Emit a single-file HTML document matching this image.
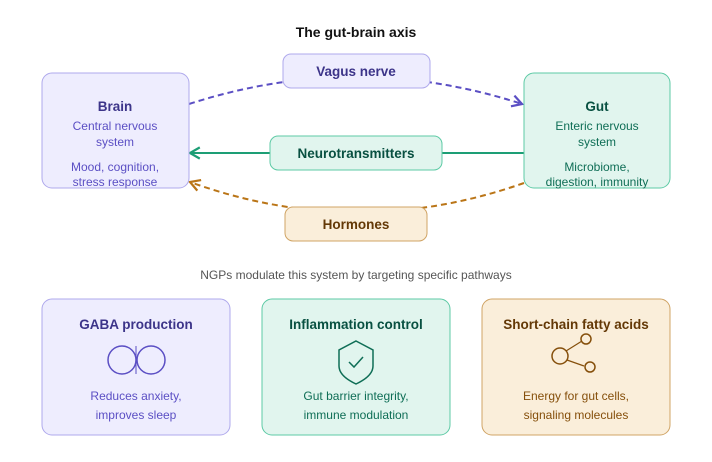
<!DOCTYPE html>
<html><head><meta charset="utf-8"><style>body{margin:0;background:#fff}svg{display:block}text{font-family:"Liberation Sans",sans-serif}</style></head><body>
<svg width="712" height="462" viewBox="0 0 712 462" xmlns="http://www.w3.org/2000/svg">
<defs>
<marker id="ap" viewBox="0 0 10 10" refX="8" refY="5" markerWidth="7" markerHeight="7" orient="auto"><path d="M1 1L8 5L1 9" fill="none" stroke="#5b4fc4" stroke-width="1.6"/></marker>
<marker id="ag" viewBox="0 0 10 10" refX="8" refY="5" markerWidth="7" markerHeight="7" orient="auto"><path d="M1 1L8 5L1 9" fill="none" stroke="#1d9e75" stroke-width="1.6"/></marker>
<marker id="ao" viewBox="0 0 10 10" refX="8" refY="5" markerWidth="7" markerHeight="7" orient="auto"><path d="M1 1L8 5L1 9" fill="none" stroke="#ba7517" stroke-width="1.6"/></marker>
</defs>
<text x="356" y="37" text-anchor="middle" font-size="14" font-weight="bold" fill="#111">The gut-brain axis</text>
<path d="M189 104 Q356 50 522 104" fill="none" stroke="#5b4fc4" stroke-width="2" stroke-dasharray="6 4" marker-end="url(#ap)"/>
<path d="M524 183 Q356 242 190 182" fill="none" stroke="#ba7517" stroke-width="2" stroke-dasharray="6 4" marker-end="url(#ao)"/>
<line x1="524" y1="153" x2="190" y2="153" stroke="#1d9e75" stroke-width="2" marker-end="url(#ag)"/>
<rect x="42" y="73" width="147" height="115" rx="10" fill="#eeedfe" stroke="#afa9ec"/>
<text x="115" y="111" text-anchor="middle" font-size="13.5" font-weight="bold" fill="#3c3489">Brain</text>
<text x="115" y="130" text-anchor="middle" font-size="12" fill="#5b4fc4">Central nervous</text>
<text x="115" y="146" text-anchor="middle" font-size="12" fill="#5b4fc4">system</text>
<text x="115" y="171" text-anchor="middle" font-size="12" fill="#5b4fc4">Mood, cognition,</text>
<text x="115" y="186" text-anchor="middle" font-size="12" fill="#5b4fc4">stress response</text>
<rect x="524" y="73" width="146" height="115" rx="10" fill="#e1f5ee" stroke="#5dcaa5"/>
<text x="597" y="111" text-anchor="middle" font-size="13.5" font-weight="bold" fill="#085041">Gut</text>
<text x="597" y="130" text-anchor="middle" font-size="12" fill="#0f6e56">Enteric nervous</text>
<text x="597" y="146" text-anchor="middle" font-size="12" fill="#0f6e56">system</text>
<text x="597" y="171" text-anchor="middle" font-size="12" fill="#0f6e56">Microbiome,</text>
<text x="597" y="186" text-anchor="middle" font-size="12" fill="#0f6e56">digestion, immunity</text>
<rect x="283" y="54" width="147" height="34" rx="8" fill="#eeedfe" stroke="#afa9ec"/>
<text x="356" y="76" text-anchor="middle" font-size="13.5" font-weight="bold" fill="#3c3489">Vagus nerve</text>
<rect x="270" y="136" width="172" height="34" rx="8" fill="#e1f5ee" stroke="#5dcaa5"/>
<text x="356" y="158" text-anchor="middle" font-size="13.5" font-weight="bold" fill="#085041">Neurotransmitters</text>
<rect x="285" y="207" width="142" height="34" rx="8" fill="#faeeda" stroke="#d0a465"/>
<text x="356" y="229" text-anchor="middle" font-size="13.5" font-weight="bold" fill="#633806">Hormones</text>
<text x="356" y="279" text-anchor="middle" font-size="12" fill="#555">NGPs modulate this system by targeting specific pathways</text>
<rect x="42" y="299" width="188" height="136" rx="10" fill="#eeedfe" stroke="#afa9ec"/>
<text x="136" y="329" text-anchor="middle" font-size="13.5" font-weight="bold" fill="#3c3489">GABA production</text>
<circle cx="122" cy="360" r="14" fill="none" stroke="#5b4fc4" stroke-width="1.5"/>
<circle cx="151" cy="360" r="14" fill="none" stroke="#5b4fc4" stroke-width="1.5"/>
<line x1="136" y1="346" x2="136" y2="374" stroke="#5b4fc4" stroke-width="1"/>
<text x="136" y="400" text-anchor="middle" font-size="12" fill="#5b4fc4">Reduces anxiety,</text>
<text x="136" y="419" text-anchor="middle" font-size="12" fill="#5b4fc4">improves sleep</text>
<rect x="262" y="299" width="188" height="136" rx="10" fill="#e1f5ee" stroke="#5dcaa5"/>
<text x="356" y="329" text-anchor="middle" font-size="13.5" font-weight="bold" fill="#085041">Inflammation control</text>
<path d="M356 341 L373 350 V366 Q373 376 356 384 Q339 376 339 366 V350 Z" fill="none" stroke="#0f6e56" stroke-width="1.5"/>
<path d="M349 362 L354 367 L363 357" fill="none" stroke="#0f6e56" stroke-width="1.5"/>
<text x="356" y="400" text-anchor="middle" font-size="12" fill="#0f6e56">Gut barrier integrity,</text>
<text x="356" y="419" text-anchor="middle" font-size="12" fill="#0f6e56">immune modulation</text>
<rect x="482" y="299" width="188" height="136" rx="10" fill="#faeeda" stroke="#d0a465"/>
<text x="576" y="329" text-anchor="middle" font-size="13.5" font-weight="bold" fill="#633806">Short-chain fatty acids</text>
<line x1="566" y1="351" x2="582" y2="341" stroke="#854f0b" stroke-width="1.2"/>
<line x1="567" y1="360" x2="584" y2="366" stroke="#854f0b" stroke-width="1.2"/>
<circle cx="560" cy="356" r="8" fill="none" stroke="#854f0b" stroke-width="1.5"/>
<circle cx="586" cy="339" r="5" fill="none" stroke="#854f0b" stroke-width="1.5"/>
<circle cx="590" cy="367" r="5" fill="none" stroke="#854f0b" stroke-width="1.5"/>
<text x="576" y="400" text-anchor="middle" font-size="12" fill="#854f0b">Energy for gut cells,</text>
<text x="576" y="419" text-anchor="middle" font-size="12" fill="#854f0b">signaling molecules</text>
</svg>
</body></html>
